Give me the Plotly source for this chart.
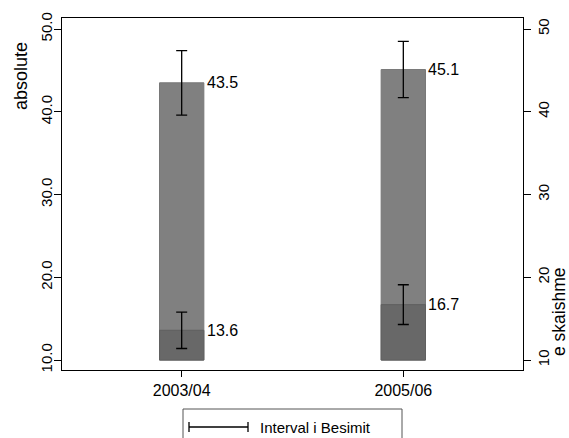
import plotly.graph_objects as go

categories = ["2003/04", "2005/06"]
positions = [1, 2]
base_value = 10
absolute_vals = [43.5, 45.1]
absolute_upper = [47.4, 48.5]
absolute_lower = [39.6, 41.7]
extreme_vals = [13.6, 16.7]
extreme_upper = [15.8, 19.1]
extreme_lower = [11.4, 14.3]
left_ticks = [10, 20, 30, 40, 50]
right_ticks = [10, 20, 30, 40, 50]

FONT = "Liberation Sans, Arial, sans-serif"
yr = [8.8, 51.33]
PW, PH = 461, 352

fig = go.Figure()
fig.add_trace(go.Bar(
    x=positions, y=[v - base_value for v in absolute_vals], base=base_value,
    width=0.2, marker=dict(color="#808080", line=dict(color="#777777", width=1)),
    showlegend=False, hoverinfo="skip"))
fig.add_trace(go.Bar(
    x=positions, y=[v - base_value for v in extreme_vals], base=base_value,
    width=0.2, marker=dict(color="#686868", line=dict(color="#606060", width=1)),
    showlegend=False, hoverinfo="skip"))

for vals, up, lo in [(absolute_vals, absolute_upper, absolute_lower),
                     (extreme_vals, extreme_upper, extreme_lower)]:
    fig.add_trace(go.Scatter(
        x=positions, y=vals, mode="markers",
        marker=dict(size=1, color="rgba(0,0,0,0)"),
        error_y=dict(type="data", symmetric=False,
                     array=[u - v for u, v in zip(up, vals)],
                     arrayminus=[v - l for v, l in zip(vals, lo)],
                     color="black", thickness=1.3, width=5.5),
        showlegend=False, hoverinfo="skip"))

# invisible trace to activate right axis
fig.add_trace(go.Scatter(x=positions, y=absolute_vals, yaxis="y2", mode="markers",
                         marker=dict(size=1, color="rgba(0,0,0,0)"),
                         showlegend=False, hoverinfo="skip"))

annotations = []
for x, v in list(zip(positions, absolute_vals)) + list(zip(positions, extreme_vals)):
    annotations.append(dict(x=x, y=v, text=f"{v:.1f}", xanchor="left", yanchor="middle",
                            xshift=23, showarrow=False,
                            font=dict(size=16, color="black", family=FONT)))
# axis titles
annotations.append(dict(xref="paper", yref="paper", x=0, y=1 - (76 - 18) / PH, xshift=-41,
                        text="absolute", textangle=-90, xanchor="center", yanchor="middle",
                        showarrow=False, font=dict(size=18, color="black", family=FONT)))
annotations.append(dict(xref="paper", yref="paper", x=1, y=1 - (312 - 18) / PH, xshift=36,
                        text="e skaishme", textangle=-90, xanchor="center", yanchor="middle",
                        showarrow=False, font=dict(size=17.5, color="black", family=FONT)))
# legend text
annotations.append(dict(xref="paper", yref="paper", x=(258 - 62) / PW, y=-(427 - 370) / PH,
                        text="Interval i Besimit", xanchor="left", yanchor="middle",
                        showarrow=False, font=dict(size=15, color="black", family=FONT)))

lx0, lx1 = (189 - 62) / PW, (248 - 62) / PW
ly = -(427 - 370) / PH
tick_h = 5 / PH
shapes = [
    dict(type="rect", xref="paper", yref="paper", x0=(183 - 62) / PW, x1=(402 - 62) / PW,
         y0=-(445 - 370) / PH, y1=-(409 - 370) / PH, line=dict(color="#555555", width=1)),
    dict(type="line", xref="paper", yref="paper", x0=lx0, x1=lx1, y0=ly, y1=ly,
         line=dict(color="black", width=1.3)),
    dict(type="line", xref="paper", yref="paper", x0=lx0, x1=lx0, y0=ly - tick_h, y1=ly + tick_h,
         line=dict(color="black", width=1.3)),
    dict(type="line", xref="paper", yref="paper", x0=lx1, x1=lx1, y0=ly - tick_h, y1=ly + tick_h,
         line=dict(color="black", width=1.3)),
]

fig.update_layout(
    width=569, height=438,
    margin=dict(l=62, r=46, t=18, b=68, autoexpand=False),
    paper_bgcolor="white", plot_bgcolor="white",
    barmode="overlay",
    font=dict(family=FONT, color="black"),
    showlegend=False,
    xaxis=dict(range=[0.46, 2.54], tickvals=positions, ticktext=categories, automargin=False,
               ticks="outside", ticklen=6, tickcolor="black", showgrid=False, zeroline=False,
               showline=True, linecolor="black", linewidth=1.3, mirror=True,
               tickfont=dict(size=16, family=FONT)),
    yaxis=dict(range=yr, tickvals=left_ticks, tickformat=".1f", tickangle=-90, automargin=False,
               ticks="outside", ticklen=7, tickcolor="black", showgrid=False, zeroline=False,
               showline=True, linecolor="black", linewidth=1.3, ticklabelstandoff=-4,
               tickfont=dict(size=15, family=FONT)),
    yaxis2=dict(range=yr, tickvals=right_ticks, tickformat="d", tickangle=-90, overlaying="y",
                side="right", ticks="outside", ticklen=7, tickcolor="black", showgrid=False,
                automargin=False, zeroline=False, showline=True, linecolor="black", linewidth=1.3,
                tickfont=dict(size=15, family=FONT)),
    annotations=annotations,
    shapes=shapes,
)

fig.write_html("out.html", config={"displayModeBar": False},
               post_script="document.body.style.margin='0';document.body.style.overflow='hidden';")
